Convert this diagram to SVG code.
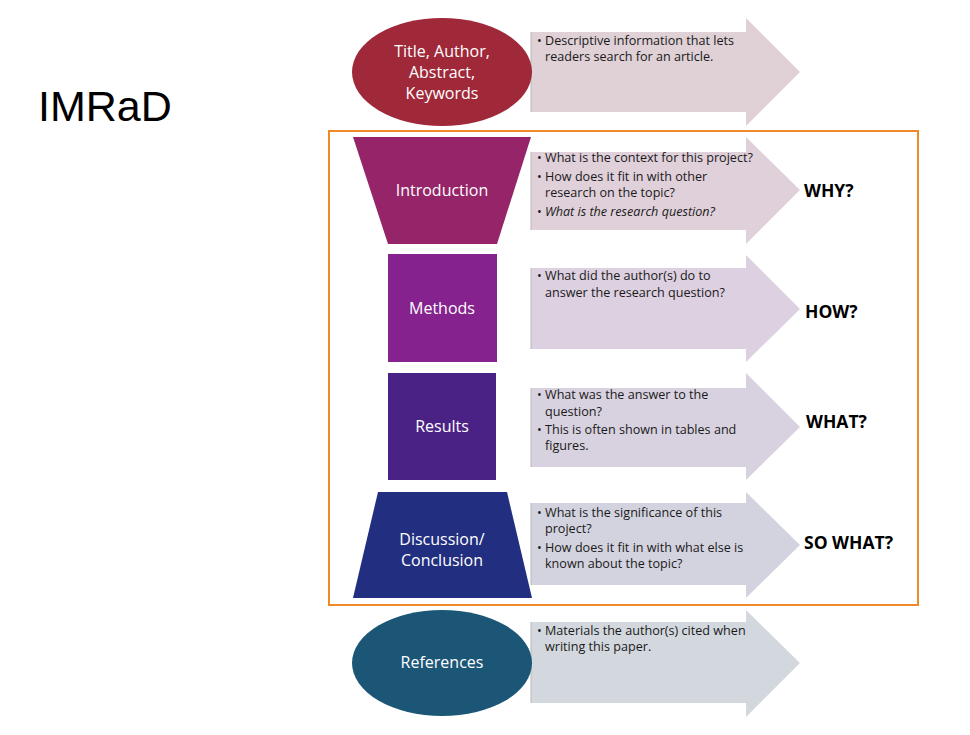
<svg xmlns="http://www.w3.org/2000/svg" width="970" height="735" viewBox="0 0 970 735">
<style>
.lbl{font-family:"Open Sans","Liberation Sans",sans-serif;font-size:16px;fill:#ffffff;text-anchor:middle}
.txt{font-family:"Open Sans","Liberation Sans",sans-serif;font-size:12.6px;fill:#1a1a1a}
.q{font-family:"Open Sans","Liberation Sans",sans-serif;font-size:17.5px;font-weight:bold;fill:#000000}
.edge{stroke:#b8b8b8;stroke-width:1}
</style>
<rect width="970" height="735" fill="#ffffff"/>
<text x="38" y="121" font-family="Liberation Sans, Arial, sans-serif" font-size="43" fill="#000000">IMRaD</text>
<rect x="329" y="131" width="589" height="474" fill="none" stroke="#EE8A2A" stroke-width="2"/>

<g id="arrow-title">
<polygon points="531,32 746,32 746,18 800,72 746,126 746,112 531,112" fill="#DFD1D6"/>
<line class="edge" x1="531" y1="32" x2="531" y2="112"/>
<text class="txt" x="537" y="45">•</text>
<text class="txt" x="545" y="45">Descriptive information that lets</text>
<text class="txt" x="545" y="61">readers search for an article.</text>
</g>
<g id="node-title">
<ellipse cx="442" cy="72" rx="90" ry="54" fill="#9F2839"/>
<text class="lbl" x="442" y="57">Title, Author,</text>
<text class="lbl" x="442" y="78">Abstract,</text>
<text class="lbl" x="442" y="99">Keywords</text>
</g>

<g id="arrow-intro">
<polygon points="531,152 746,152 746,137 800,190 746,244 746,230 531,230" fill="#E0D0DA"/>
<line class="edge" x1="531" y1="152" x2="531" y2="230"/>
<text class="txt" x="537" y="162">•</text>
<text class="txt" x="545" y="162">What is the context for this project?</text>
<text class="txt" x="537" y="181">•</text>
<text class="txt" x="545" y="181">How does it fit in with other</text>
<text class="txt" x="545" y="197">research on the topic?</text>
<text class="txt" x="537" y="216">•</text>
<text class="txt" x="545" y="216" font-style="italic">What is the research question?</text>
<text class="q" x="804" y="197">WHY?</text>
</g>
<g id="node-intro">
<polygon points="353,137 531,137 497,244 388,244" fill="#952468"/>
<text class="lbl" x="442" y="196">Introduction</text>
</g>

<g id="arrow-methods">
<polygon points="531,268 746,268 746,255 800,309 746,362 746,349 531,349" fill="#DDD0E0"/>
<line class="edge" x1="531" y1="268" x2="531" y2="349"/>
<text class="txt" x="537" y="280">•</text>
<text class="txt" x="545" y="280">What did the author(s) do to</text>
<text class="txt" x="545" y="297">answer the research question?</text>
<text class="q" x="805" y="318">HOW?</text>
</g>
<g id="node-methods">
<rect x="388" y="254" width="109" height="108" fill="#85228E"/>
<text class="lbl" x="442" y="314">Methods</text>
</g>

<g id="arrow-results">
<polygon points="531,388 746,388 746,373 800,427 746,480 746,467 531,467" fill="#D8D2E0"/>
<line class="edge" x1="531" y1="388" x2="531" y2="467"/>
<text class="txt" x="537" y="399">•</text>
<text class="txt" x="545" y="399">What was the answer to the</text>
<text class="txt" x="545" y="416">question?</text>
<text class="txt" x="537" y="434">•</text>
<text class="txt" x="545" y="434">This is often shown in tables and</text>
<text class="txt" x="545" y="450">figures.</text>
<text class="q" x="806" y="428">WHAT?</text>
</g>
<g id="node-results">
<rect x="388" y="373" width="108" height="107" fill="#4A2286"/>
<text class="lbl" x="442" y="432">Results</text>
</g>

<g id="arrow-discussion">
<polygon points="531,503 746,503 746,492 800,545 746,598 746,585 531,585" fill="#D3D3DF"/>
<line class="edge" x1="531" y1="503" x2="531" y2="585"/>
<text class="txt" x="537" y="517">•</text>
<text class="txt" x="545" y="517">What is the significance of this</text>
<text class="txt" x="545" y="533">project?</text>
<text class="txt" x="537" y="552">•</text>
<text class="txt" x="545" y="552">How does it fit in with what else is</text>
<text class="txt" x="545" y="568">known about the topic?</text>
<text class="q" x="804" y="549">SO WHAT?</text>
</g>
<g id="node-discussion">
<polygon points="378,492 507,492 532,598 353,598" fill="#222E80"/>
<text class="lbl" x="442" y="545">Discussion/</text>
<text class="lbl" x="442" y="566">Conclusion</text>
</g>

<g id="arrow-references">
<polygon points="531,622 746,622 746,610 800,663 746,717 746,703 531,703" fill="#D3D8DF"/>
<line class="edge" x1="531" y1="622" x2="531" y2="703"/>
<text class="txt" x="537" y="635">•</text>
<text class="txt" x="545" y="635">Materials the author(s) cited when</text>
<text class="txt" x="545" y="651">writing this paper.</text>
</g>
<g id="node-references">
<ellipse cx="442" cy="663" rx="90" ry="53" fill="#1C5677"/>
<text class="lbl" x="442" y="668">References</text>
</g>
</svg>
